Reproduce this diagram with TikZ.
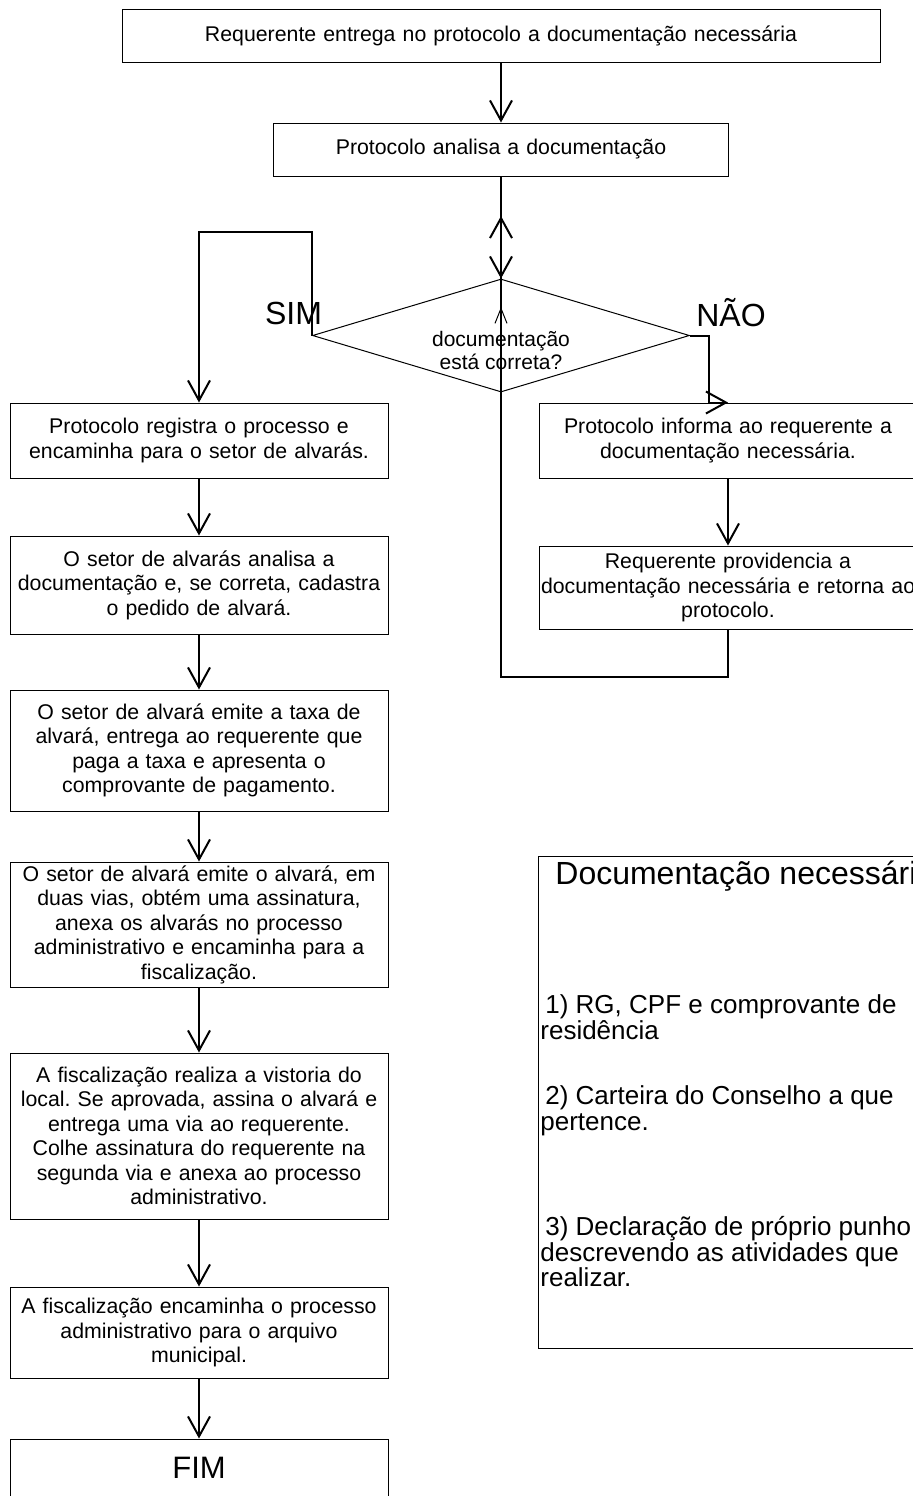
\documentclass[tikz,border=0pt]{standalone}
\usepackage{fontspec}
\setmainfont{Liberation Sans}
\frenchspacing
\usetikzlibrary{shapes.geometric,arrows.meta}

\begin{document}
\begin{tikzpicture}[x=0.5pt,y=-0.5pt,
        box/.style={draw,line width=0.5pt,align=center,inner xsep=1pt,inner ysep=0pt,
            text width=187pt,font=\fontsize{10.65pt}{12.25pt}\selectfont},
        decision/.style={diamond,draw,line width=0.5pt,aspect=3.3,
            minimum width=188.5pt,minimum height=56.5pt,inner sep=0pt},
        flow/.style={line width=1pt,-{Straight Barb[length=10pt,width=11pt,line width=1pt]}},
        small tip/.style={line width=0.5pt,-{Straight Barb[length=7.5pt,width=6pt,line width=0.5pt]}},
        big/.style={font=\fontsize{16pt}{19pt}\selectfont,inner sep=0pt},
        item/.style={anchor=west,align=left,inner sep=0pt,font=\fontsize{13pt}{12.75pt}\selectfont}]

    \useasboundingbox (0,0) rectangle (912,1496);

    \node[box,text width=377pt,minimum height=26.5pt] (entrega) at (501,35.5)
        {Requerente entrega no protocolo a documentação necessária};
    \node[box,text width=225.5pt,minimum height=26.5pt] (analisa) at (501,149.5)
        {Protocolo analisa a documentação};

    \node[decision] (pergunta) at (501,335.5) {};
    \node[inner sep=0pt,align=center,font=\fontsize{10.5pt}{11.5pt}\selectfont] (perguntatxt) at (501,350.5)
        {documentação\\está correta?};
    \node[big] (sim) at (293.5,313) {SIM};
    \node[big] (nao) at (731,313) {NÃO};

    % lado esquerdo
    \node[box,minimum height=37.5pt] (registra) at (199,440.5)
        {Protocolo registra o processo e\\encaminha para o setor de alvarás.};
    \node[box,minimum height=49pt] (cadastra) at (199,585)
        {O setor de alvarás analisa a\\documentação e, se correta, cadastra\\o pedido de alvará.};
    \node[box,minimum height=60.5pt] (taxa) at (199,750.5)
        {O setor de alvará emite a taxa de\\alvará, entrega ao requerente que\\paga a taxa e apresenta o\\comprovante de pagamento.};
    \node[box,minimum height=62.5pt] (emite) at (199,924.5)
        {O setor de alvará emite o alvará, em\\duas vias, obtém uma assinatura,\\anexa os alvarás no processo\\administrativo e encaminha para a\\fiscalização.};
    \node[box,minimum height=83pt] (vistoria) at (199,1136)
        {A fiscalização realiza a vistoria do\\local. Se aprovada, assina o alvará e\\entrega uma via ao requerente.\\Colhe assinatura do requerente na\\segunda via e anexa ao processo\\administrativo.};
    \node[box,minimum height=45.5pt] (arquivo) at (199,1332.5)
        {A fiscalização encaminha o processo\\administrativo para o arquivo\\municipal.};
    \node[box,minimum height=29pt,font=\fontsize{15.5pt}{18pt}\selectfont] (fim) at (199,1468) {FIM};

    % lado direito
    \node[box,minimum height=37.5pt] (informa) at (728,440.5)
        {Protocolo informa ao requerente a\\documentação necessária.};
    \node[box,minimum height=41.5pt] (providencia) at (728,587.5)
        {Requerente providencia a\\\mbox{documentação necessária e retorna ao}\\protocolo.};

    \node[draw,line width=0.5pt,anchor=north west,minimum width=189pt,minimum height=246pt,inner sep=0pt]
        (docs) at (538,856) {};
    \node[big,anchor=base west] (titulo) at (555,884) {Documentação necessária};
    \node[item] (doc1) at (540,1017) {\hspace*{2.5pt}1) RG, CPF e comprovante de\\residência};
    \node[item] (doc2) at (540,1111) {\hspace*{2.5pt}2) Carteira do Conselho a que\\pertence.};
    \node[item] (doc3) at (540,1252) {\hspace*{2.5pt}3) Declaração de próprio punho\\descrevendo as atividades que\\realizar.};

    \coordinate (simtopo) at (199,232);
    \coordinate (naocanto) at (709,335.5);
    \coordinate (volta) at (501,677);
    \coordinate (retorno) at (501,216);
    \coordinate (marca) at (501,307);

    \draw[flow] (entrega) -- (analisa);
    \draw[flow] (analisa) -- (pergunta.north);
    \draw[flow] (pergunta.west) |- (simtopo) -- (registra.north);
    \draw[flow] (pergunta.east) -- (naocanto) |- (informa.north);
    \draw[flow] (registra) -- (cadastra);
    \draw[flow] (cadastra) -- (taxa);
    \draw[flow] (taxa) -- (emite);
    \draw[flow] (emite) -- (vistoria);
    \draw[flow] (vistoria) -- (arquivo);
    \draw[flow] (arquivo) -- (fim);
    \draw[flow] (informa) -- (providencia);
    \draw[flow] (providencia.south) |- (volta) -- (retorno);
    \draw[small tip] (pergunta.south) -- (marca);
\end{tikzpicture}
\end{document}
